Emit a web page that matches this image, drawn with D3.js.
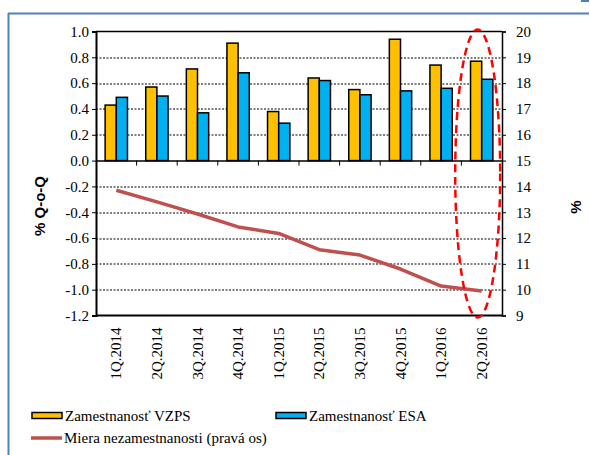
<!DOCTYPE html>
<html>
  <head>
    <meta charset="utf-8">
  </head>
  <body>
    <script src="https://d3js.org/d3.v7.min.js"></script>
    <script>

    // data
    var quarters = ["1Q.2014", "2Q.2014", "3Q.2014", "4Q.2014", "1Q.2015",
                    "2Q.2015", "3Q.2015", "4Q.2015", "1Q.2016", "2Q.2016"];
    var vzps = [0.43, 0.57, 0.71, 0.91, 0.38, 0.64, 0.55, 0.94, 0.74, 0.77];
    var esa  = [0.49, 0.50, 0.37, 0.68, 0.29, 0.62, 0.51, 0.54, 0.56, 0.63];
    var unemployment = [13.85, 13.4, 12.93, 12.43, 12.18, 11.55, 11.34, 10.8, 10.14, 9.95];
    var leftTicks = [1.0, 0.8, 0.6, 0.4, 0.2, 0.0, -0.2, -0.4, -0.6, -0.8, -1.0, -1.2];
    var rightTicks = [20, 19, 18, 17, 16, 15, 14, 13, 12, 11, 10, 9];
    var seriesNames = ["Zamestnanosť VZPS", "Zamestnanosť ESA", "Miera nezamestnanosti (pravá os)"];

    var SERIF = "'Liberation Serif'";
    var SANS = "'Liberation Sans'";

    var W = 590, H = 455;
    var margin = {top: 31.5, right: 88, bottom: 139.5, left: 96};
    var width = W - margin.left - margin.right,
        height = H - margin.top - margin.bottom;

    d3.select("body").style("margin", "0px");

    var svg = d3.select("body").append("svg")
        .attr("width", W)
        .attr("height", H)
        .style("display", "block");

    // blue frame of the surrounding box
    svg.append("line")
      .attr("x1", 8.5).attr("y1", 13).attr("x2", 8.5).attr("y2", H)
      .attr("stroke", "#4f81bd").attr("stroke-width", 2);
    svg.append("line")
      .attr("x1", 8).attr("y1", 13.5).attr("x2", 589).attr("y2", 13.5)
      .attr("stroke", "#4f81bd").attr("stroke-width", 2);
    svg.append("rect")
      .attr("x", 581).attr("y", 0).attr("width", 8).attr("height", 2)
      .attr("fill", "#4f81bd");

    var g = svg.append("g")
      .attr("transform", "translate(" + margin.left + "," + margin.top + ")");

    var x = d3.scaleBand().domain(quarters).range([0, width]);
    var xIn = d3.scaleBand().domain(["vzps", "esa"])
      .range([x.bandwidth() * 0.225, x.bandwidth() * 0.775]);
    var y = d3.scaleLinear().domain([-1.2, 1.0]).range([height, 0]);
    var y2 = d3.scaleLinear().domain([9, 20]).range([height, 0]);

    // gridlines
    g.selectAll(".grid")
      .data(leftTicks.filter(function(d){ return d != 0 && d != 1.0 && d != -1.2 }))
      .enter().append("line")
        .attr("x1", 0).attr("x2", width)
        .attr("y1", function(d){ return Math.round(y(d)) + 0.5 })
        .attr("y2", function(d){ return Math.round(y(d)) + 0.5 })
        .attr("stroke", "#000")
        .attr("stroke-width", 1)
        .attr("stroke-dasharray", "2,1.5");

    // bars
    var groups = g.selectAll(".q")
      .data(quarters)
      .enter().append("g")
        .attr("transform", function(d){ return "translate(" + x(d) + ",0)" });

    groups.append("rect")
      .attr("x", xIn("vzps"))
      .attr("y", function(d, i){ return y(vzps[i]) })
      .attr("width", xIn.bandwidth())
      .attr("height", function(d, i){ return y(0) - y(vzps[i]) })
      .attr("fill", "#ffc000")
      .attr("stroke", "#000")
      .attr("stroke-width", 1.5);

    groups.append("rect")
      .attr("x", xIn("esa"))
      .attr("y", function(d, i){ return y(esa[i]) })
      .attr("width", xIn.bandwidth())
      .attr("height", function(d, i){ return y(0) - y(esa[i]) })
      .attr("fill", "#00b0f0")
      .attr("stroke", "#000")
      .attr("stroke-width", 1.5);

    // frame lines
    g.append("line").attr("x1", 0).attr("x2", width).attr("y1", 0).attr("y2", 0)
      .attr("stroke", "#000").attr("stroke-width", 1.5);
    g.append("line").attr("x1", 0).attr("x2", width).attr("y1", height).attr("y2", height)
      .attr("stroke", "#000").attr("stroke-width", 2);

    // left axis
    var yAxis = g.append("g")
      .call(d3.axisLeft(y).tickValues(leftTicks).tickSize(4).tickPadding(3));
    yAxis.attr("font-family", null).attr("font-size", null);
    yAxis.select(".domain").attr("stroke-width", 2);
    yAxis.selectAll("text")
      .style("font-family", SERIF).attr("font-size", "15px").attr("fill", "#000")
      .text(function(d){ return d.toFixed(1) });

    // right axis
    var y2Axis = g.append("g")
      .attr("transform", "translate(" + width + ",0)")
      .call(d3.axisRight(y2).tickValues(rightTicks).tickSize(4).tickPadding(10));
    y2Axis.attr("font-family", null).attr("font-size", null);
    y2Axis.select(".domain").attr("stroke-width", 1.5);
    y2Axis.selectAll("text")
      .style("font-family", SERIF).attr("font-size", "15px").attr("fill", "#000");

    // x axis at zero
    var xAxis = g.append("g")
      .attr("transform", "translate(0," + y(0) + ")")
      .call(d3.axisBottom(x).tickSize(0).tickFormat(""));
    xAxis.select(".domain").attr("stroke-width", 1.5);
    xAxis.selectAll(".sep")
      .data(quarters.slice(1))
      .enter().append("line")
        .attr("x1", function(d){ return x(d) }).attr("x2", function(d){ return x(d) })
        .attr("y1", 0).attr("y2", 5)
        .attr("stroke", "#000");

    // category labels below the plot
    g.selectAll(".xl")
      .data(quarters)
      .enter().append("text")
        .attr("transform", function(d){
          return "translate(" + (x(d) + x.bandwidth() / 2 + 5) + "," + (height + 12) + ") rotate(-90)" })
        .attr("text-anchor", "end")
        .style("font-family", SERIF)
        .attr("font-size", "15px")
        .text(function(d){ return d });

    // unemployment line
    var line = d3.line()
      .x(function(d, i){ return x(quarters[i]) + x.bandwidth() / 2 })
      .y(function(d){ return y2(d) });
    g.append("path")
      .datum(unemployment)
      .attr("d", line)
      .attr("fill", "none")
      .attr("stroke", "#c0504d")
      .attr("stroke-width", 3.5)
      .attr("stroke-linejoin", "round");

    // red dashed highlight around last quarter
    var last = quarters[quarters.length - 1];
    g.append("ellipse")
      .attr("cx", x(last) + x.bandwidth() / 2 - 4)
      .attr("cy", y2(14.5))
      .attr("rx", 22.5)
      .attr("ry", 144)
      .attr("fill", "none")
      .attr("stroke", "#ff0000")
      .attr("stroke-width", 2.5)
      .attr("stroke-dasharray", "8,5");

    // axis titles
    svg.append("text")
      .attr("transform", "translate(45,206) rotate(-90)")
      .attr("text-anchor", "middle")
      .style("font-family", SANS).attr("font-size", "15px").attr("font-weight", "bold")
      .text("% Q-o-Q");
    svg.append("text")
      .attr("transform", "translate(581,207) rotate(-90)")
      .attr("text-anchor", "middle")
      .style("font-family", SANS).attr("font-size", "15px").attr("font-weight", "bold")
      .text("%");

    // legend
    var legend = svg.append("g");
    legend.append("rect").attr("x", 32).attr("y", 412.5).attr("width", 30).attr("height", 6)
      .attr("fill", "#ffc000").attr("stroke", "#000").attr("stroke-width", 1.5);
    legend.append("rect").attr("x", 276).attr("y", 412.5).attr("width", 30).attr("height", 6)
      .attr("fill", "#00b0f0").attr("stroke", "#000").attr("stroke-width", 1.5);
    legend.append("line").attr("x1", 31).attr("x2", 62).attr("y1", 438).attr("y2", 438)
      .attr("stroke", "#c0504d").attr("stroke-width", 3.5);
    legend.selectAll(".lt")
      .data([[65, 421, seriesNames[0]], [309, 421, seriesNames[1]], [64, 443, seriesNames[2]]])
      .enter().append("text")
        .attr("x", function(d){ return d[0] })
        .attr("y", function(d){ return d[1] })
        .style("font-family", SERIF).attr("font-size", "15px")
        .text(function(d){ return d[2] });

    </script>
  </body>
</html>
